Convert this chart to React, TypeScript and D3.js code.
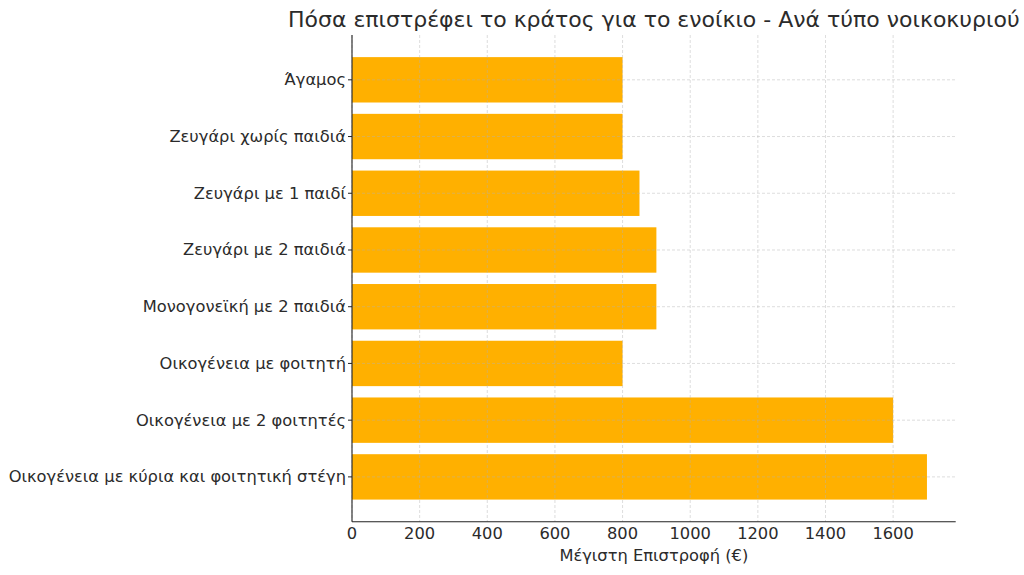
import React from "react";
import * as d3 from "d3";

const categories = [
  "Άγαμος",
  "Ζευγάρι χωρίς παιδιά",
  "Ζευγάρι με 1 παιδί",
  "Ζευγάρι με 2 παιδιά",
  "Μονογονεϊκή με 2 παιδιά",
  "Οικογένεια με φοιτητή",
  "Οικογένεια με 2 φοιτητές",
  "Οικογένεια με κύρια και φοιτητική στέγη",
];
const values = [800, 800, 850, 900, 900, 800, 1600, 1700];
const xTicks = [0, 200, 400, 600, 800, 1000, 1200, 1400, 1600];
const title = "Πόσα επιστρέφει το κράτος για το ενοίκιο - Ανά τύπο νοικοκυριού";
const xLabel = "Μέγιστη Επιστροφή (€)";

const W = 1024;
const H = 575;
const L = 352;
const R = 955.7;
const T = 35;
const B = 521.7;
const FONT = "DejaVu Sans, sans-serif";
const TXT = "#2b2b2b";

export default function App() {
  const maxV = d3.max(values) as number;
  const x = d3.scaleLinear().domain([0, maxV * 1.05]).range([L, R]);
  const n = categories.length;
  const barH = 0.8;
  const pad = (n - 1 + barH) * 0.05;
  const y = d3
    .scaleLinear()
    .domain([-barH / 2 - pad, n - 1 + barH / 2 + pad])
    .range([T, B]);
  const bh = y(barH) - y(0);

  return (
    <svg
      width={W}
      height={H}
      style={{ position: "absolute", left: 0, top: 0, background: "#fff" }}
      fontFamily={FONT}
    >
      {categories.map((c, i) => (
        <rect
          key={c}
          x={x(0)}
          y={y(i) - bh / 2}
          width={x(values[i]) - x(0)}
          height={bh}
          fill="#FFB000"
        />
      ))}
      {/* grid */}
      {xTicks.map((t) => (
        <line
          key={"gx" + t}
          x1={x(t)}
          x2={x(t)}
          y1={T}
          y2={B}
          stroke="#b0b0b0"
          strokeOpacity={0.55}
          strokeDasharray="3,2"
          strokeWidth={0.8}
        />
      ))}
      {categories.map((c, i) => (
        <line
          key={"gy" + c}
          x1={L}
          x2={R}
          y1={y(i)}
          y2={y(i)}
          stroke="#b0b0b0"
          strokeOpacity={0.55}
          strokeDasharray="3,2"
          strokeWidth={0.8}
        />
      ))}
      {/* axes */}
      <line x1={L} x2={L} y1={T} y2={B} stroke="#222" strokeWidth={1.1} />
      <line x1={L} x2={R} y1={B} y2={B} stroke="#222" strokeWidth={1.1} />
      {categories.map((c, i) => (
        <g key={"yl" + c}>
          <line x1={L - 4} x2={L} y1={y(i)} y2={y(i)} stroke="#222" strokeWidth={1} />
          <text
            x={L - 6}
            y={y(i)}
            textAnchor="end"
            dominantBaseline="central"
            fontSize={16.3}
            fill={TXT}
          >
            {c}
          </text>
        </g>
      ))}
      {xTicks.map((t) => (
        <text
          key={"xl" + t}
          x={x(t)}
          y={B + 12}
          textAnchor="middle"
          dominantBaseline="central"
          fontSize={16.3}
          fill={TXT}
        >
          {t}
        </text>
      ))}
      <text
        x={(L + R) / 2}
        y={B + 34}
        textAnchor="middle"
        dominantBaseline="central"
        fontSize={16.3}
        fill={TXT}
      >
        {xLabel}
      </text>
      <text
        x={(L + R) / 2}
        y={19}
        textAnchor="middle"
        dominantBaseline="central"
        fontSize={22}
        fill={TXT}
      >
        {title}
      </text>
    </svg>
  );
}
